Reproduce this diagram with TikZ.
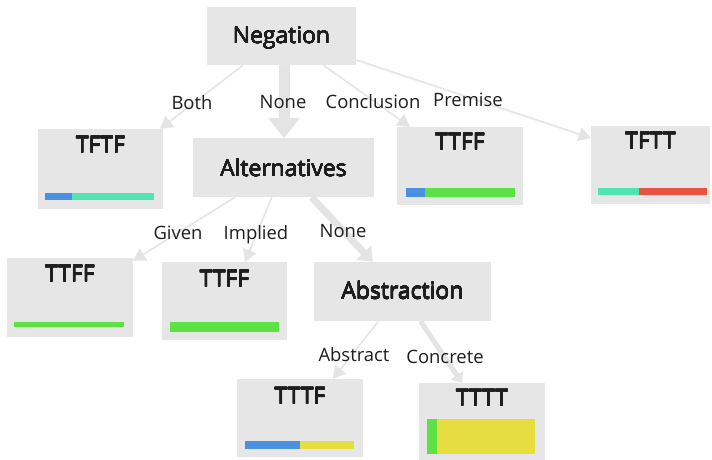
\documentclass[tikz,border=0pt]{standalone}
\usepackage{fontspec}
\setmainfont{Open Sans}
\usepackage{contour}
\contourlength{0.16bp}
\contournumber{12}
\usetikzlibrary{arrows.meta,calc}
\definecolor{boxgray}{HTML}{E6E6E6}
\definecolor{edgegray}{HTML}{E4E4E4}
\definecolor{txt}{HTML}{1E1E1E}
\definecolor{cblue}{HTML}{4A90E2}
\definecolor{cteal}{HTML}{50E3B4}
\definecolor{cgreen}{HTML}{5DE246}
\definecolor{cred}{HTML}{E8523F}
\definecolor{cyellow}{HTML}{E6DD3E}
\newcommand\semitxt[1]{\contour{txt}{#1}}
\tikzset{
  box/.style={rectangle, fill=boxgray, draw=none, inner sep=0pt},
  ttl/.style={text=txt, anchor=base, font=\fontsize{23}{27}\selectfont, inner sep=0pt},
  lbl/.style={text=txt, font=\fontsize{18.5}{21}\selectfont, inner sep=0pt},
  thin/.style={draw=edgegray, line width=1.5bp, -{Triangle[width=14bp,length=12bp,line width=0.1bp]}},
  thick/.style={draw=edgegray, -{Triangle[width=#1*2.9bp,length=#1*1.8bp,line width=0.1bp]}, line width=#1 bp},
}
\begin{document}
\begin{tikzpicture}[x=1bp,y=-1bp]
\useasboundingbox[fill=white] (0,0) rectangle (712,460);
% boxes
\node[box, minimum width=149bp, minimum height=58bp] (neg) at (281.5,36) {};
\node[box, minimum width=125bp, minimum height=80bp] (tftf) at (100.5,169) {};
\node[box, minimum width=181bp, minimum height=59bp] (alt) at (283.5,167.5) {};
\node[box, minimum width=126bp, minimum height=78bp] (ttffa) at (460,166) {};
\node[box, minimum width=119bp, minimum height=78bp] (tftt) at (650.5,165) {};
\node[box, minimum width=126bp, minimum height=79bp] (ttffb) at (70,297.5) {};
\node[box, minimum width=125bp, minimum height=78bp] (ttffc) at (224.5,301) {};
\node[box, minimum width=177bp, minimum height=59bp] (abs) at (402.5,291.5) {};
\node[box, minimum width=126bp, minimum height=78bp] (tttf) at (300,418) {};
\node[box, minimum width=126bp, minimum height=78bp] (tttt) at (482,422) {};
% titles
\node[ttl] (negt) at (281.5,43.5) {\semitxt{Negation}};
\node[ttl] (altt) at (283.5,176.5) {\semitxt{Alternatives}};
\node[ttl] (abst) at (402.5,299) {\semitxt{Abstraction}};
\node[ttl] (tftft) at (100.5,153) {\semitxt{TFTF}};
\node[ttl] (ttffat) at (460,150) {\semitxt{TTFF}};
\node[ttl] (tfttt) at (650.5,149) {\semitxt{TFTT}};
\node[ttl] (ttffbt) at (70,282) {\semitxt{TTFF}};
\node[ttl] (ttffct) at (224.5,287) {\semitxt{TTFF}};
\node[ttl] (tttft) at (300,404) {\semitxt{TTTF}};
\node[ttl] (ttttt) at (482,406) {\semitxt{TTTT}};
% bars
\fill[cblue] (45,193) rectangle (72,200);
\fill[cteal] (72,193) rectangle (154,200);
\fill[cblue] (406,188) rectangle (425,197);
\fill[cgreen] (425,188) rectangle (515,197);
\fill[cteal] (598,188) rectangle (639,195);
\fill[cred] (639,188) rectangle (707,195);
\fill[cgreen] (14,322) rectangle (124,327);
\fill[cgreen] (170,322) rectangle (279,332);
\fill[cblue] (245,441) rectangle (300,449);
\fill[cyellow] (300,441) rectangle (354,449);
\fill[cgreen] (427,419) rectangle (437,454);
\fill[cyellow] (437,419) rectangle (535,454);
% edges
\draw[thin] ($(neg.south)+(-38.5,0)$) -- ($(tftf.north east)+(-3,0)$);
\draw[thick=11] ($(neg.south)+(2.5,0)$) -- ($(alt.north)+(0.5,0)$);
\draw[thin] ($(neg.south)+(42,0)$) -- ($(ttffa.north west)+(13,0)$);
\draw[thin] ($(neg.east)+(0,24)$) -- ($(tftt.west)+(0,-27)$);
\draw[thin] ($(alt.south)+(-48.5,0)$) -- ($(ttffb.north east)+(0,3)$);
\draw[thin] ($(alt.south)+(-11.5,0)$) -- ($(ttffc.north)+(20.5,0)$);
\draw[thick=7] ($(alt.south)+(28,0)$) -- ($(abs.north)+(-30,0)$);
\draw[thin] ($(abs.south)+(-24,0)$) -- ($(tttf.north)+(33,0)$);
\draw[thick=5] ($(abs.south)+(18,0)$) -- ($(tttt.north)+(-20,0)$);
% edge labels
\node[lbl] (l1) at (192,103) {Both};
\node[lbl] (l2) at (283,102) {None};
\node[lbl] (l3) at (373,102) {Conclusion};
\node[lbl] (l4) at (468,100) {Premise};
\node[lbl] (l5) at (178,233) {Given};
\node[lbl] (l6) at (256,235) {Implied};
\node[lbl] (l7) at (343,231) {None};
\node[lbl] (l8) at (354,355) {Abstract};
\node[lbl] (l9) at (445,357) {Concrete};
\end{tikzpicture}
\end{document}
